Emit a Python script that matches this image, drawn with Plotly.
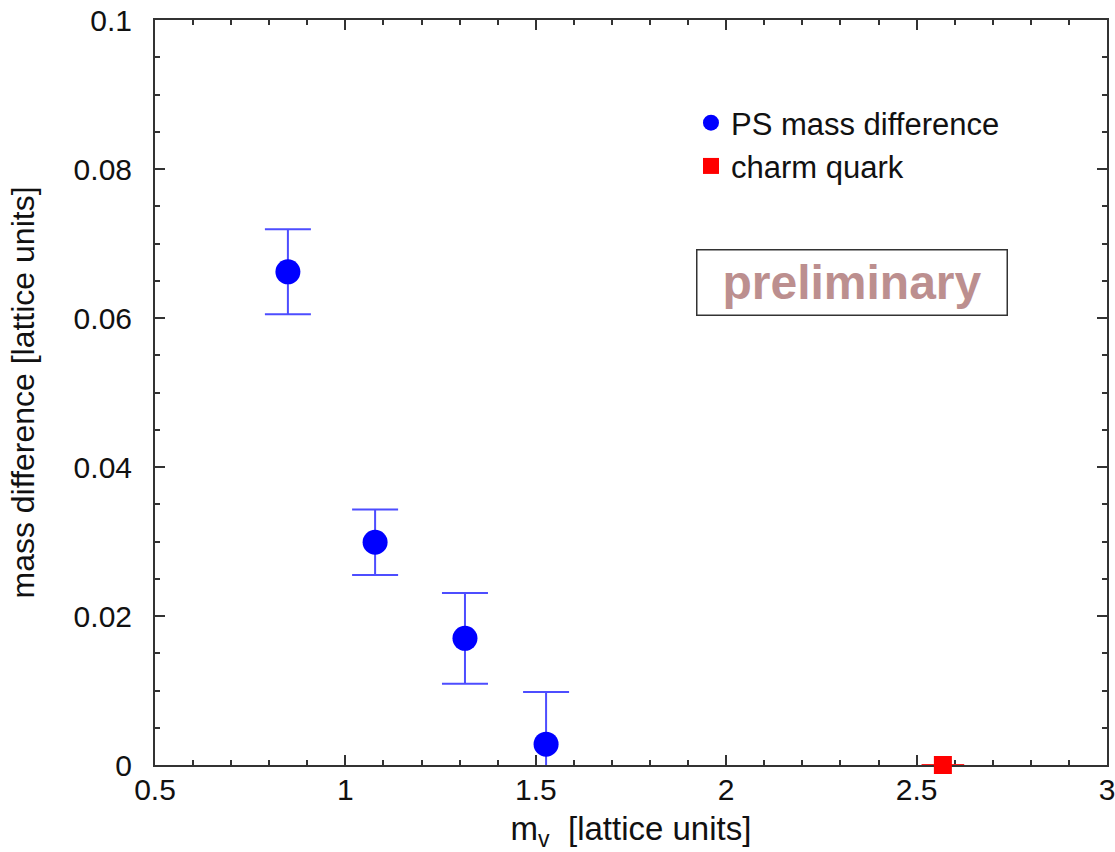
import plotly.graph_objects as go

# Data
ps_mv = [0.849, 1.078, 1.314, 1.527]
ps_diff = [0.0662, 0.0299, 0.0170, 0.0028]
ps_err = [0.0057, 0.0044, 0.0061, 0.0070]

charm_mv = [2.569]
charm_diff = [0.0]
charm_xerr = [0.056]

x_ticks = [0.5, 1, 1.5, 2, 2.5, 3]
x_ticklabels = ["0.5", "1", "1.5", "2", "2.5", "3"]
y_ticks = [0, 0.02, 0.04, 0.06, 0.08, 0.1]
y_ticklabels = ["0", "0.02", "0.04", "0.06", "0.08", "0.1"]

FONT = "Liberation Sans, Arial, Helvetica, sans-serif"
AXC = "#333333"

fig = go.Figure()

fig.add_trace(go.Scatter(
    x=ps_mv, y=ps_diff, mode="markers", name="PS mass difference",
    marker=dict(symbol="circle", size=25, color="#0000ff", line=dict(width=0)),
    error_y=dict(type="data", array=ps_err, visible=True, color="#4d4dff",
                 thickness=2, width=23),
))

fig.add_trace(go.Scatter(
    x=charm_mv, y=charm_diff, mode="markers", name="charm quark",
    marker=dict(symbol="square", size=18, color="#ff0000", line=dict(width=0)),
    error_x=dict(type="data", array=charm_xerr, visible=True, color="#ff2020",
                 thickness=2, width=0),
    cliponaxis=False,
))

axis_common = dict(
    showline=True, linecolor=AXC, linewidth=2, mirror="ticks",
    ticks="inside", ticklen=10, tickwidth=1.5, tickcolor=AXC,
    showgrid=False, zeroline=False, automargin=False,
    tickfont=dict(family=FONT, size=30, color="#111111"),
    ticklabeloverflow="allow",
    layer="below traces",
)

fig.update_xaxes(
    range=[0.5, 3], tickmode="array", tickvals=x_ticks, ticktext=x_ticklabels,
    minor=dict(ticks="inside", ticklen=5, tickwidth=1.5, tickcolor=AXC, dtick=0.1),
    title=dict(text="m<sub>v</sub>\u00a0\u00a0[lattice units]",
               font=dict(family=FONT, size=33, color="#111111"), standoff=29),
    ticklabelstandoff=-3,
    **axis_common,
)
fig.update_yaxes(
    range=[0, 0.1], tickmode="array", tickvals=y_ticks, ticktext=y_ticklabels,
    minor=dict(ticks="inside", ticklen=5, tickwidth=1.5, tickcolor=AXC, dtick=0.005),
    title=dict(text="mass difference [lattice units]",
               font=dict(family=FONT, size=32, color="#111111"), standoff=29),
    ticklabelstandoff=15,
    **axis_common,
)

fig.add_annotation(
    xref="paper", yref="paper", x=0.732, y=0.648, xanchor="center", yanchor="middle",
    text="<b>preliminary</b>", showarrow=False,
    font=dict(family=FONT, size=48, color="#bc8f8f"),
    width=309, height=64, borderpad=0, bordercolor=AXC, borderwidth=1.5,
    bgcolor="white",
)

fig.update_layout(
    width=1115, height=852,
    margin=dict(l=155, r=8, t=20, b=87),
    plot_bgcolor="white", paper_bgcolor="white",
    font=dict(family=FONT, color="#111111"),
    legend=dict(x=0.563, y=0.898, xanchor="left", yanchor="top",
                font=dict(family=FONT, size=31, color="#111111"),
                bgcolor="rgba(0,0,0,0)", itemsizing="trace", tracegroupgap=0),
    showlegend=True,
)

fig.write_html("out.html")
